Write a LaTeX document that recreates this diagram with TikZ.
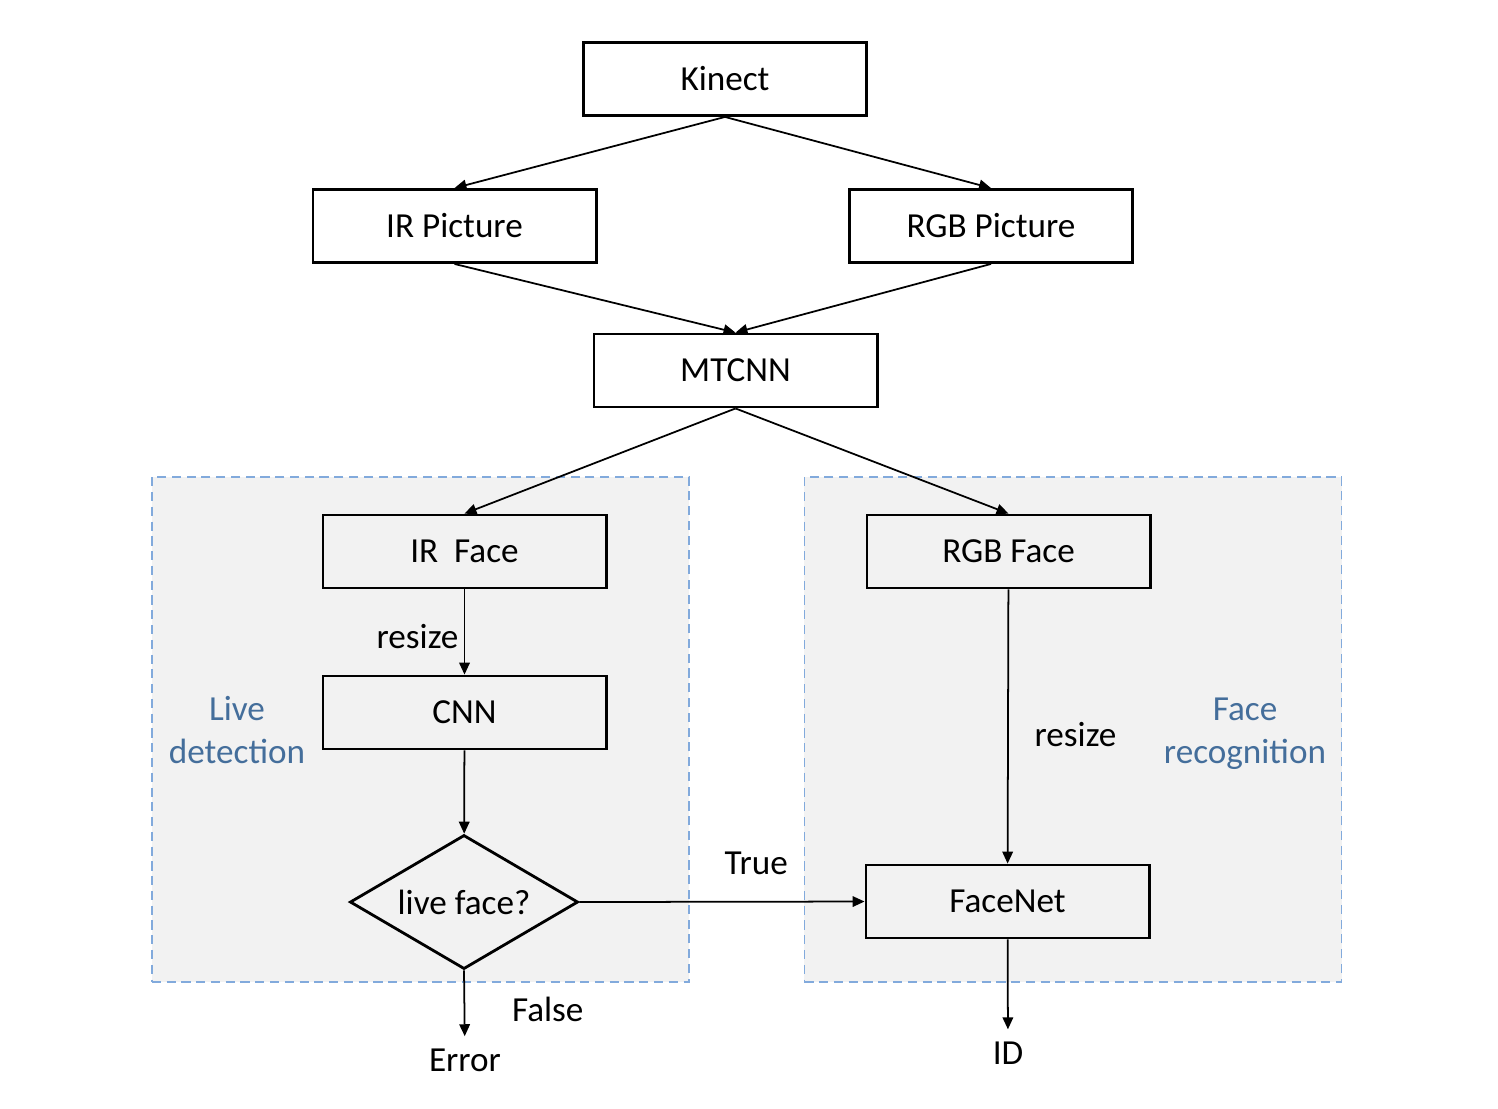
\documentclass[tikz,border=0pt]{standalone}
\usepackage{fontspec}
\setmainfont{Carlito}
\usepackage{xcolor}
\usepackage{tikz}
\usetikzlibrary{
    arrows.meta,
    shapes.geometric
}
\definecolor{areagray}{RGB}{242,242,242}
\definecolor{areablue}{RGB}{130,170,220}
\definecolor{labelblue}{RGB}{68,110,155}

\begin{document}
\begin{tikzpicture}[x=0.01cm,y=-0.01cm,>={Triangle[length=3.4pt,width=3pt]},font=\fontsize{10}{12.2}\selectfont]
    \tikzstyle{block}=[draw, line width=0.8pt, minimum width=2.83cm, minimum height=0.73cm, inner sep=0pt]
    \tikzstyle{area}=[draw=areablue, fill=areagray, line width=0.4pt, dash pattern=on 2.6pt off 1.6pt, minimum width=5.37cm, minimum height=5.05cm, inner sep=0pt]
    \tikzstyle{arrow}=[->, line width=0.5pt]
    \useasboundingbox (0,0) rectangle (1498,1108);
    % gray areas
    \node[area] (livearea) at (420.5, 729.5) {};
    \node[area] (facearea) at (1073, 729.5) {};
    \node[align=center, text=labelblue] (livelabel) at (237, 730) {Live\\detection};
    \node[align=center, text=labelblue] (facelabel) at (1245, 734) {Face\\recognition};

    \node[block] (kinect) at (725, 79) {Kinect};
    \node[block] (irpic) at (454.5, 226) {IR Picture};
    \node[block] (rgbpic) at (991, 226) {RGB Picture};
    \node[block] (mtcnn) at (735.5, 370.5) {MTCNN};
    \node[block] (irface) at (464.5, 551.5) {IR\ \ Face};
    \node[block] (rgbface) at (1008.5, 551.5) {RGB Face};
    \node[block] (cnn) at (464.5, 712.5) {CNN};
    \node[draw, diamond, aspect=1.7, line width=0.8pt, minimum width=2.28cm, minimum height=1.34cm, inner sep=0pt] (live) at (464, 902) {live face?};
    \node[block] (facenet) at (1007.5, 901.5) {FaceNet};
    \node (error) at (465, 1060) {Error};
    \node (id) at (1008, 1053) {ID};

    \draw[arrow] (kinect.south) -- (irpic.north);
    \draw[arrow] (kinect.south) -- (rgbpic.north);
    \draw[arrow] (irpic.south) -- (mtcnn.north);
    \draw[arrow] (rgbpic.south) -- (mtcnn.north);
    \draw[arrow] (mtcnn.south) -- (irface.north);
    \draw[arrow] (mtcnn.south) -- (rgbface.north);
    \draw[arrow] (irface) -- node[left, inner sep=1.5pt, pos=0.55] {resize} (cnn);
    \draw[arrow] (cnn) -- (live);
    \draw[arrow] (live.east) -- node[pos=0.62, above=4pt] {True} (facenet.west);
    \draw[arrow] (live.south) -- node[right=0.35cm, pos=0.6] {False} (error);
    \draw[arrow] (rgbface) -- node[right=4pt, pos=0.53] {resize} (facenet);
    \draw[arrow] (facenet) -- (id);
\end{tikzpicture}
\end{document}
